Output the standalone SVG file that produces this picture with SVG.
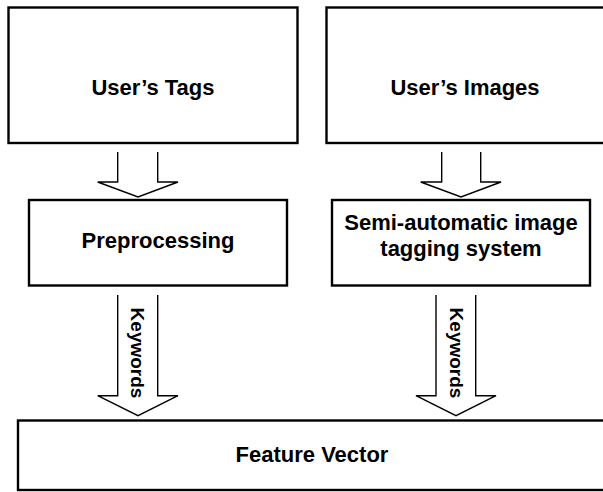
<svg xmlns="http://www.w3.org/2000/svg" width="603" height="492" viewBox="0 0 603 492">
  <style>
    .box { fill: #ffffff; stroke: #000000; stroke-width: 2.4; }
    .arrow { fill: #ffffff; stroke: #000000; stroke-width: 1.4; stroke-linejoin: miter; }
    .label { font-family: "Liberation Sans", Arial, sans-serif; font-weight: bold; font-size: 22px; fill: #000000; text-anchor: middle; }
    .edge-label { font-family: "Liberation Sans", Arial, sans-serif; font-weight: bold; font-size: 19px; fill: #000000; text-anchor: middle; }
  </style>
  <rect width="603" height="492" fill="#ffffff"/>

  <g id="users-tags">
    <rect class="box" x="8.5" y="7.5" width="289" height="135.5"/>
    <text class="label" x="153" y="95">User’s Tags</text>
  </g>

  <g id="users-images">
    <rect class="box" x="326.5" y="7.5" width="280" height="135.5"/>
    <text class="label" x="465" y="95">User’s Images</text>
  </g>

  <g id="preprocessing">
    <rect class="box" x="29" y="200" width="258" height="85.5"/>
    <text class="label" x="158" y="247.5">Preprocessing</text>
  </g>

  <g id="semi-automatic-tagging">
    <rect class="box" x="332" y="200" width="258" height="85.5"/>
    <text class="label" x="461" y="230">Semi-automatic image</text>
    <text class="label" x="461" y="256">tagging system</text>
  </g>

  <g id="feature-vector">
    <rect class="box" x="18" y="420.5" width="590" height="69.5"/>
    <text class="label" x="312" y="462">Feature Vector</text>
  </g>

  <g id="connectors">
    <!-- hollow block arrows between stages -->
    <path class="arrow" d="M117.7,152 V182 H97.7 L138,197 L178,182 H157.7 V152"/>
    <path class="arrow" d="M441.7,152 V182 H420.7 L461,197 L501,182 H480.7 V152"/>
    <path class="arrow" d="M117.7,295 V395.7 H97.7 L138,415.7 L178,395.7 H157.7 V295"/>
    <path class="arrow" d="M436,295 V395.7 H416 L456,415.7 L496,395.7 H475.7 V295"/>
    <text class="edge-label" transform="translate(131,353) rotate(90)">Keywords</text>
    <text class="edge-label" transform="translate(450,353) rotate(90)">Keywords</text>
  </g>
</svg>
